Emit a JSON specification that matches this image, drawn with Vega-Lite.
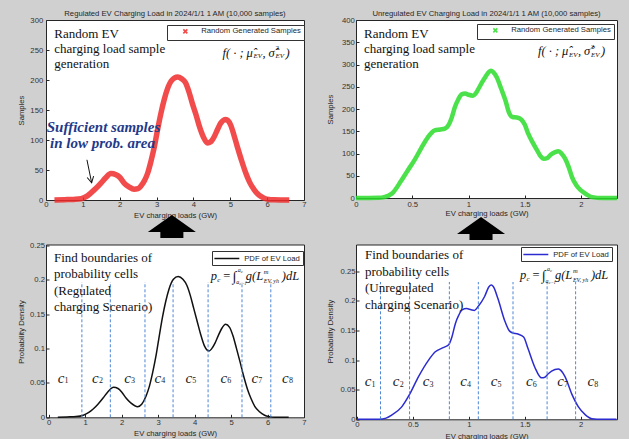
{
"$schema": "https://vega.github.io/schema/vega-lite/v6.json",
"background": "#d0d0d0",
"padding": {"left": 16, "top": 9, "right": 14, "bottom": 4},
"bounds": "flush",
"align": "none",
"columns": 2,
"spacing": {"row": 44.5, "column": 52},
"config": {
  "font": "Liberation Sans",
  "view": {"stroke": "#262626", "strokeWidth": 1, "fill": "#ffffff"},
  "axis": {"domain": false, "grid": false, "ticks": true, "tickSize": -3, "tickColor": "#262626", "labelFont": "Liberation Sans", "labelFontSize": 7.7, "labelColor": "#333333", "titleFont": "Liberation Sans", "titleFontSize": 7.7, "titleFontWeight": "normal", "titleColor": "#262626", "labelFlush": false, "labelOverlap": false, "labelBound": false},
  "title": {"font": "Liberation Sans", "fontSize": 7.7, "fontWeight": "normal", "color": "#262626", "offset": -2},
  "legend": {"labelFont": "Liberation Sans", "labelFontSize": 7.7, "labelColor": "#262626", "strokeColor": "#333333", "fillColor": "#ffffff", "padding": 2.5, "orient": "none", "cornerRadius": 0}
},
"datasets": {
  "tl": [{"x":0.23,"y":0},{"x":0.5,"y":0.5},{"x":0.75,"y":1},{"x":0.95,"y":2},{"x":1.1,"y":6},{"x":1.22,"y":12},{"x":1.35,"y":19},{"x":1.49,"y":28},{"x":1.62,"y":37},{"x":1.76,"y":44},{"x":1.9,"y":42},{"x":2.0,"y":38},{"x":2.12,"y":28},{"x":2.25,"y":22},{"x":2.39,"y":18},{"x":2.5,"y":19},{"x":2.57,"y":23},{"x":2.67,"y":32},{"x":2.76,"y":45},{"x":2.85,"y":65},{"x":2.94,"y":89},{"x":3.03,"y":118},{"x":3.12,"y":145},{"x":3.21,"y":168},{"x":3.3,"y":186},{"x":3.42,"y":200},{"x":3.57,"y":205},{"x":3.68,"y":202},{"x":3.79,"y":195},{"x":3.88,"y":180},{"x":3.97,"y":161},{"x":4.07,"y":142},{"x":4.16,"y":123},{"x":4.27,"y":105},{"x":4.38,"y":95},{"x":4.47,"y":97},{"x":4.56,"y":105},{"x":4.65,"y":117},{"x":4.74,"y":128},{"x":4.88,"y":134},{"x":5.01,"y":125},{"x":5.1,"y":108},{"x":5.19,"y":89},{"x":5.3,"y":67},{"x":5.42,"y":45},{"x":5.53,"y":29},{"x":5.65,"y":17},{"x":5.78,"y":8},{"x":5.92,"y":3},{"x":6.05,"y":1},{"x":6.19,"y":0.5},{"x":6.6,"y":0}],
  "tr": [{"x":0,"y":0},{"x":0.2,"y":0.5},{"x":0.25,"y":2},{"x":0.32,"y":10},{"x":0.4,"y":38},{"x":0.46,"y":62},{"x":0.52,"y":85},{"x":0.58,"y":112},{"x":0.64,"y":137},{"x":0.7,"y":152},{"x":0.75,"y":154},{"x":0.79,"y":156},{"x":0.82,"y":163},{"x":0.85,"y":180},{"x":0.88,"y":205},{"x":0.91,"y":222},{"x":0.94,"y":233},{"x":0.97,"y":235},{"x":1.0,"y":232},{"x":1.04,"y":230},{"x":1.07,"y":237},{"x":1.09,"y":246},{"x":1.12,"y":260},{"x":1.15,"y":272},{"x":1.18,"y":283},{"x":1.2,"y":286},{"x":1.22,"y":283},{"x":1.25,"y":272},{"x":1.29,"y":246},{"x":1.33,"y":218},{"x":1.36,"y":192},{"x":1.39,"y":182},{"x":1.43,"y":181},{"x":1.47,"y":176},{"x":1.5,"y":165},{"x":1.53,"y":145},{"x":1.57,"y":125},{"x":1.61,"y":107},{"x":1.64,"y":94},{"x":1.67,"y":88},{"x":1.7,"y":90},{"x":1.73,"y":97},{"x":1.77,"y":103},{"x":1.8,"y":105},{"x":1.83,"y":99},{"x":1.86,"y":88},{"x":1.89,"y":70},{"x":1.92,"y":47},{"x":1.96,"y":28},{"x":2.0,"y":17},{"x":2.05,"y":8},{"x":2.1,"y":2},{"x":2.19,"y":0},{"x":2.32,"y":0}],
  "bl": [{"x":0.25,"y":0},{"x":0.5,"y":0.0005},{"x":0.75,"y":0.001},{"x":0.95,"y":0.003},{"x":1.1,"y":0.007},{"x":1.22,"y":0.012},{"x":1.35,"y":0.019},{"x":1.49,"y":0.028},{"x":1.62,"y":0.037},{"x":1.78,"y":0.0437},{"x":1.9,"y":0.042},{"x":2.0,"y":0.037},{"x":2.12,"y":0.028},{"x":2.25,"y":0.021},{"x":2.44,"y":0.0155},{"x":2.55,"y":0.019},{"x":2.67,"y":0.031},{"x":2.76,"y":0.045},{"x":2.85,"y":0.065},{"x":2.94,"y":0.089},{"x":3.03,"y":0.118},{"x":3.12,"y":0.146},{"x":3.21,"y":0.169},{"x":3.3,"y":0.187},{"x":3.42,"y":0.201},{"x":3.55,"y":0.205},{"x":3.68,"y":0.201},{"x":3.79,"y":0.192},{"x":3.88,"y":0.178},{"x":3.97,"y":0.16},{"x":4.07,"y":0.14},{"x":4.16,"y":0.122},{"x":4.27,"y":0.104},{"x":4.4,"y":0.0966},{"x":4.47,"y":0.1},{"x":4.56,"y":0.108},{"x":4.65,"y":0.119},{"x":4.74,"y":0.129},{"x":4.85,"y":0.1354},{"x":4.96,"y":0.131},{"x":5.05,"y":0.119},{"x":5.15,"y":0.1},{"x":5.25,"y":0.08},{"x":5.35,"y":0.059},{"x":5.45,"y":0.041},{"x":5.55,"y":0.027},{"x":5.65,"y":0.016},{"x":5.78,"y":0.008},{"x":5.92,"y":0.003},{"x":6.05,"y":0.001},{"x":6.2,"y":0},{"x":6.58,"y":0}],
  "br": [{"x":0,"y":0},{"x":0.2,"y":0},{"x":0.26,"y":0.002},{"x":0.31,"y":0.007},{"x":0.4,"y":0.021},{"x":0.47,"y":0.042},{"x":0.55,"y":0.072},{"x":0.64,"y":0.1},{"x":0.7,"y":0.114},{"x":0.77,"y":0.121},{"x":0.82,"y":0.126},{"x":0.85,"y":0.14},{"x":0.88,"y":0.162},{"x":0.91,"y":0.176},{"x":0.94,"y":0.185},{"x":0.98,"y":0.187},{"x":1.02,"y":0.185},{"x":1.05,"y":0.184},{"x":1.085,"y":0.191},{"x":1.14,"y":0.207},{"x":1.18,"y":0.224},{"x":1.2,"y":0.227},{"x":1.22,"y":0.224},{"x":1.26,"y":0.204},{"x":1.32,"y":0.167},{"x":1.36,"y":0.15},{"x":1.39,"y":0.146},{"x":1.44,"y":0.144},{"x":1.49,"y":0.139},{"x":1.53,"y":0.119},{"x":1.59,"y":0.088},{"x":1.65,"y":0.07},{"x":1.68,"y":0.071},{"x":1.71,"y":0.077},{"x":1.77,"y":0.084},{"x":1.8,"y":0.085},{"x":1.82,"y":0.083},{"x":1.86,"y":0.072},{"x":1.92,"y":0.043},{"x":1.98,"y":0.021},{"x":2.04,"y":0.008},{"x":2.1,"y":0.001},{"x":2.19,"y":0},{"x":2.32,"y":0}],
  "blb": [{"x":0.91},{"x":1.69},{"x":2.64},{"x":3.41},{"x":4.37},{"x":5.3},{"x":6.09}],
  "brb": [{"x":0.21},{"x":0.47},{"x":0.826},{"x":1.085},{"x":1.395},{"x":1.7},{"x":1.955}],
  "blc": [{"x":0.337,"n":"1"},{"x":1.28,"n":"2"},{"x":2.16,"n":"3"},{"x":2.99,"n":"4"},{"x":3.84,"n":"5"},{"x":4.8,"n":"6"},{"x":5.65,"n":"7"},{"x":6.49,"n":"8"}],
  "brc": [{"x":0.098,"n":"1"},{"x":0.35,"n":"2"},{"x":0.617,"n":"3"},{"x":0.952,"n":"4"},{"x":1.225,"n":"5"},{"x":1.54,"n":"6"},{"x":1.82,"n":"7"},{"x":2.09,"n":"8"}]
},
"resolve": {"scale": {"x": "independent", "y": "independent", "color": "independent"}, "legend": {"color": "independent"}},
"concat": [
  {
   "width": 258, "height": 180,
   "title": "Regulated EV Charging Load in 2024/1/1 1 AM (10,000 samples)",
   "layer": [
    {"data": {"name": "tl"},
     "mark": {"type": "line", "interpolate": "monotone", "strokeWidth": 5.5, "opacity": 0.85},
     "encoding": {
      "x": {"field": "x", "type": "quantitative", "scale": {"domain": [0, 7], "nice": false, "zero": false}, "axis": {"title": "EV charging loads (GW)", "values": [0,1,2,3,4,5,6,7], "tickCount": 20, "format": "d", "labelOverlap": false, "labelPadding": 3.7, "titleY": 15, "titleBaseline": "middle"}},
      "y": {"field": "y", "type": "quantitative", "scale": {"domain": [0, 300], "nice": false}, "axis": {"title": "Samples", "values": [0,50,100,150,200,250,300], "tickCount": 20, "format": "d", "labelOverlap": false, "labelPadding": 6.3, "titleX": -25, "titleY": 90, "titleBaseline": "middle", "titleAngle": -90}},
      "color": {"datum": "Random Generated Samples", "type": "nominal", "scale": {"range": ["#ee2b2b"]}, "legend": {"title": null, "legendX": 121, "legendY": 5, "symbolType": "M-1,-1L1,1M1,-1L-1,1", "symbolSize": 16, "symbolOffset": 12, "labelOffset": 12, "symbolStrokeWidth": 1.6, "symbolFillColor": "transparent", "symbolStrokeColor": "#ee2b2b"}}
     }},
    {"data": {"values": [{}]}, "mark": {"type": "text", "text": ["Random EV", "charging load sample", "generation"], "font": "Liberation Serif", "fontSize": 13, "lineHeight": 15, "align": "left", "baseline": "alphabetic", "color": "#111111"}, "encoding": {"x": {"datum": 0.225, "type": "quantitative"}, "y": {"datum": 270.5, "type": "quantitative"}}},
    {"data": {"values": [{}]}, "mark": {"type": "text", "text": "f( \u00b7 ;", "dx": 0, "font": "Liberation Serif", "fontSize": 12.5, "fontStyle": "italic", "align": "left", "baseline": "middle", "color": "#111111"}, "encoding": {"x": {"datum": 4.79, "type": "quantitative"}, "y": {"datum": 245.6, "type": "quantitative"}}},
    {"data": {"values": [{}]}, "mark": {"type": "text", "text": "\u03bc\u0302", "dx": 24, "font": "Liberation Serif", "fontSize": 12.5, "fontStyle": "italic", "align": "left", "baseline": "middle", "color": "#111111"}, "encoding": {"x": {"datum": 4.79, "type": "quantitative"}, "y": {"datum": 245.6, "type": "quantitative"}}},
    {"data": {"values": [{}]}, "mark": {"type": "text", "text": "EV", "dx": 31, "dy": 3.5, "font": "Liberation Serif", "fontSize": 7, "fontStyle": "italic", "align": "left", "baseline": "middle", "color": "#111111"}, "encoding": {"x": {"datum": 4.79, "type": "quantitative"}, "y": {"datum": 245.6, "type": "quantitative"}}},
    {"data": {"values": [{}]}, "mark": {"type": "text", "text": ",", "dx": 40, "font": "Liberation Serif", "fontSize": 12.5, "fontStyle": "italic", "align": "left", "baseline": "middle", "color": "#111111"}, "encoding": {"x": {"datum": 4.79, "type": "quantitative"}, "y": {"datum": 245.6, "type": "quantitative"}}},
    {"data": {"values": [{}]}, "mark": {"type": "text", "text": "\u03c3\u0302", "dx": 46, "font": "Liberation Serif", "fontSize": 12.5, "fontStyle": "italic", "align": "left", "baseline": "middle", "color": "#111111"}, "encoding": {"x": {"datum": 4.79, "type": "quantitative"}, "y": {"datum": 245.6, "type": "quantitative"}}},
    {"data": {"values": [{}]}, "mark": {"type": "text", "text": "2", "dx": 53, "dy": -4.5, "font": "Liberation Serif", "fontSize": 7, "align": "left", "baseline": "middle", "color": "#111111"}, "encoding": {"x": {"datum": 4.79, "type": "quantitative"}, "y": {"datum": 245.6, "type": "quantitative"}}},
    {"data": {"values": [{}]}, "mark": {"type": "text", "text": "EV", "dx": 53, "dy": 3.5, "font": "Liberation Serif", "fontSize": 7, "fontStyle": "italic", "align": "left", "baseline": "middle", "color": "#111111"}, "encoding": {"x": {"datum": 4.79, "type": "quantitative"}, "y": {"datum": 245.6, "type": "quantitative"}}},
    {"data": {"values": [{}]}, "mark": {"type": "text", "text": ")", "dx": 63, "font": "Liberation Serif", "fontSize": 12.5, "fontStyle": "italic", "align": "left", "baseline": "middle", "color": "#111111"}, "encoding": {"x": {"datum": 4.79, "type": "quantitative"}, "y": {"datum": 245.6, "type": "quantitative"}}},
    {"data": {"values": [{}]}, "mark": {"type": "text", "text": "Sufficient samples", "font": "Liberation Serif", "fontSize": 15, "fontStyle": "italic", "fontWeight": "bold", "align": "left", "baseline": "alphabetic", "color": "#1f3a8a"}, "encoding": {"x": {"datum": 0.02, "type": "quantitative"}, "y": {"datum": 114, "type": "quantitative"}}},
    {"data": {"values": [{}]}, "mark": {"type": "text", "text": "in low prob. area", "font": "Liberation Serif", "fontSize": 15, "fontStyle": "italic", "fontWeight": "bold", "align": "left", "baseline": "alphabetic", "color": "#1f3a8a"}, "encoding": {"x": {"datum": 0.108, "type": "quantitative"}, "y": {"datum": 86.5, "type": "quantitative"}}},
    {"data": {"values": [{}]}, "mark": {"type": "rule", "color": "#111111", "strokeWidth": 1}, "encoding": {"x": {"datum": 1.111, "type": "quantitative"}, "y": {"datum": 67, "type": "quantitative"}, "x2": {"datum": 1.238}, "y2": {"datum": 28.8}}},
    {"data": {"values": [{}]}, "mark": {"type": "point", "shape": "M-0.55,-1L0,0L0.55,-1", "filled": false, "size": 144, "angle": 348, "color": "#111111", "strokeWidth": 1, "opacity": 1}, "encoding": {"x": {"datum": 1.238, "type": "quantitative"}, "y": {"datum": 28.8, "type": "quantitative"}}}
   ]
  },
  {
   "width": 261, "height": 178,
   "title": "Unregulated EV Charging Load in 2024/1/1 1 AM (10,000 samples)",
   "layer": [
    {"data": {"name": "tr"},
     "mark": {"type": "line", "interpolate": "monotone", "strokeWidth": 4.5, "opacity": 0.85},
     "encoding": {
      "x": {"field": "x", "type": "quantitative", "scale": {"domain": [0, 2.32], "nice": false, "zero": false}, "axis": {"title": "EV charging loads (GW)", "values": [0,0.5,1,1.5,2], "tickCount": 20, "format": ".1~f", "labelOverlap": false, "labelPadding": 5.3, "titleY": 15, "titleBaseline": "middle"}},
      "y": {"field": "y", "type": "quantitative", "scale": {"domain": [0, 400], "nice": false}, "axis": {"title": "Samples", "values": [0,50,100,150,200,250,300,350,400], "tickCount": 20, "format": "d", "labelOverlap": false, "labelPadding": 4.7, "titleX": -25.3, "titleY": 89, "titleBaseline": "middle", "titleAngle": -90}},
      "color": {"datum": "Random Generated Samples", "type": "nominal", "scale": {"range": ["#2bdc2b"]}, "legend": {"title": null, "legendX": 121, "legendY": 4, "symbolType": "M-1,-1L1,1M1,-1L-1,1", "symbolSize": 16, "symbolOffset": 12, "labelOffset": 12, "symbolStrokeWidth": 1.6, "symbolFillColor": "transparent", "symbolStrokeColor": "#2bdc2b"}}
     }},
    {"data": {"values": [{}]}, "mark": {"type": "text", "text": ["Random EV", "charging load sample", "generation"], "font": "Liberation Serif", "fontSize": 13, "lineHeight": 15, "align": "left", "baseline": "alphabetic", "color": "#111111"}, "encoding": {"x": {"datum": 0.071, "type": "quantitative"}, "y": {"datum": 359.6, "type": "quantitative"}}},
    {"data": {"values": [{}]}, "mark": {"type": "text", "text": "f( \u00b7 ;", "dx": 0, "font": "Liberation Serif", "fontSize": 12.5, "fontStyle": "italic", "align": "left", "baseline": "middle", "color": "#111111"}, "encoding": {"x": {"datum": 1.618, "type": "quantitative"}, "y": {"datum": 330.3, "type": "quantitative"}}},
    {"data": {"values": [{}]}, "mark": {"type": "text", "text": "\u03bc\u0302", "dx": 24, "font": "Liberation Serif", "fontSize": 12.5, "fontStyle": "italic", "align": "left", "baseline": "middle", "color": "#111111"}, "encoding": {"x": {"datum": 1.618, "type": "quantitative"}, "y": {"datum": 330.3, "type": "quantitative"}}},
    {"data": {"values": [{}]}, "mark": {"type": "text", "text": "EV", "dx": 31, "dy": 3.5, "font": "Liberation Serif", "fontSize": 7, "fontStyle": "italic", "align": "left", "baseline": "middle", "color": "#111111"}, "encoding": {"x": {"datum": 1.618, "type": "quantitative"}, "y": {"datum": 330.3, "type": "quantitative"}}},
    {"data": {"values": [{}]}, "mark": {"type": "text", "text": ",", "dx": 40, "font": "Liberation Serif", "fontSize": 12.5, "fontStyle": "italic", "align": "left", "baseline": "middle", "color": "#111111"}, "encoding": {"x": {"datum": 1.618, "type": "quantitative"}, "y": {"datum": 330.3, "type": "quantitative"}}},
    {"data": {"values": [{}]}, "mark": {"type": "text", "text": "\u03c3\u0302", "dx": 46, "font": "Liberation Serif", "fontSize": 12.5, "fontStyle": "italic", "align": "left", "baseline": "middle", "color": "#111111"}, "encoding": {"x": {"datum": 1.618, "type": "quantitative"}, "y": {"datum": 330.3, "type": "quantitative"}}},
    {"data": {"values": [{}]}, "mark": {"type": "text", "text": "2", "dx": 53, "dy": -4.5, "font": "Liberation Serif", "fontSize": 7, "align": "left", "baseline": "middle", "color": "#111111"}, "encoding": {"x": {"datum": 1.618, "type": "quantitative"}, "y": {"datum": 330.3, "type": "quantitative"}}},
    {"data": {"values": [{}]}, "mark": {"type": "text", "text": "EV", "dx": 53, "dy": 3.5, "font": "Liberation Serif", "fontSize": 7, "fontStyle": "italic", "align": "left", "baseline": "middle", "color": "#111111"}, "encoding": {"x": {"datum": 1.618, "type": "quantitative"}, "y": {"datum": 330.3, "type": "quantitative"}}},
    {"data": {"values": [{}]}, "mark": {"type": "text", "text": ")", "dx": 63, "font": "Liberation Serif", "fontSize": 12.5, "fontStyle": "italic", "align": "left", "baseline": "middle", "color": "#111111"}, "encoding": {"x": {"datum": 1.618, "type": "quantitative"}, "y": {"datum": 330.3, "type": "quantitative"}}}
   ]
  },
  {
   "width": 258, "height": 172.8,
   "layer": [
    {"data": {"name": "bl"},
     "mark": {"type": "line", "interpolate": "monotone", "strokeWidth": 1.5},
     "encoding": {
      "x": {"field": "x", "type": "quantitative", "scale": {"domain": [-0.074, 7], "nice": false, "zero": false}, "axis": {"title": "EV charging loads (GW)", "values": [0,1,2,3,4,5,6,7], "tickCount": 20, "format": "d", "labelOverlap": false, "labelPadding": 4.4, "titleY": 16, "titleBaseline": "middle"}},
      "y": {"field": "y", "type": "quantitative", "scale": {"domain": [0, 0.2517], "nice": false}, "axis": {"title": "Probability Density", "values": [0,0.05,0.1,0.15,0.2,0.25], "tickCount": 20, "format": ".2~f", "labelOverlap": false, "labelPadding": 4.5, "titleX": -25, "titleY": 87, "titleBaseline": "middle", "titleAngle": -90}},
      "color": {"datum": "PDF of EV Load", "type": "nominal", "scale": {"range": ["#111111"]}, "legend": {"title": null, "legendX": 166, "legendY": 6.5, "symbolType": "M-3,0L3,0", "symbolSize": 69, "symbolOffset": 7.35, "symbolStrokeWidth": 1.5, "labelOffset": 12.35}}
     }},
    {"data": {"name": "blb"}, "mark": {"type": "rule", "color": "#4d86d6", "strokeDash": [3, 2], "strokeWidth": 1}, "encoding": {"x": {"field": "x", "type": "quantitative"}, "y": {"datum": 0, "type": "quantitative"}, "y2": {"datum": 0.197}}},
    {"data": {"name": "blc"}, "mark": {"type": "text", "text": "c", "font": "Liberation Serif", "fontSize": 15, "fontStyle": "italic", "align": "center", "baseline": "middle", "color": "#222222"}, "encoding": {"x": {"field": "x", "type": "quantitative"}, "y": {"datum": 0.0573, "type": "quantitative"}}},
    {"data": {"name": "blc"}, "mark": {"type": "text", "font": "Liberation Serif", "fontSize": 8, "align": "left", "baseline": "middle", "dx": 3.5, "dy": 3.5, "color": "#222222"}, "encoding": {"x": {"field": "x", "type": "quantitative"}, "y": {"datum": 0.0573, "type": "quantitative"}, "text": {"field": "n"}}},
    {"data": {"values": [{}]}, "mark": {"type": "text", "text": ["Find boundaries of", "probability cells", "(Regulated", "charging Scenario)"], "font": "Liberation Serif", "fontSize": 13, "lineHeight": 16.5, "align": "left", "baseline": "alphabetic", "color": "#111111"}, "encoding": {"x": {"datum": 0.145, "type": "quantitative"}, "y": {"datum": 0.2263, "type": "quantitative"}}},
    {"data": {"values": [{}]}, "mark": {"type": "text", "text": "p", "dx": 0, "font": "Liberation Serif", "fontSize": 12.5, "fontStyle": "italic", "align": "left", "baseline": "alphabetic", "color": "#111111"}, "encoding": {"x": {"datum": 4.445, "type": "quantitative"}, "y": {"datum": 0.2, "type": "quantitative"}}},
    {"data": {"values": [{}]}, "mark": {"type": "text", "text": "c", "dx": 6.5, "dy": 2.5, "font": "Liberation Serif", "fontSize": 7, "fontStyle": "italic", "align": "left", "baseline": "alphabetic", "color": "#111111"}, "encoding": {"x": {"datum": 4.445, "type": "quantitative"}, "y": {"datum": 0.2, "type": "quantitative"}}},
    {"data": {"values": [{}]}, "mark": {"type": "text", "text": "=", "dx": 12.5, "font": "Liberation Serif", "fontSize": 12.5, "align": "left", "baseline": "alphabetic", "color": "#111111"}, "encoding": {"x": {"datum": 4.445, "type": "quantitative"}, "y": {"datum": 0.2, "type": "quantitative"}}},
    {"data": {"values": [{}]}, "mark": {"type": "text", "text": "\u222b", "dx": 22, "dy": 1, "font": "Liberation Serif", "fontSize": 14, "align": "left", "baseline": "alphabetic", "color": "#111111"}, "encoding": {"x": {"datum": 4.445, "type": "quantitative"}, "y": {"datum": 0.2, "type": "quantitative"}}},
    {"data": {"values": [{}]}, "mark": {"type": "text", "text": "a", "dx": 27, "dy": -8, "font": "Liberation Serif", "fontSize": 6, "fontStyle": "italic", "align": "left", "baseline": "alphabetic", "color": "#111111"}, "encoding": {"x": {"datum": 4.445, "type": "quantitative"}, "y": {"datum": 0.2, "type": "quantitative"}}},
    {"data": {"values": [{}]}, "mark": {"type": "text", "text": "c", "dx": 30, "dy": -6.5, "font": "Liberation Serif", "fontSize": 4.5, "fontStyle": "italic", "align": "left", "baseline": "alphabetic", "color": "#111111"}, "encoding": {"x": {"datum": 4.445, "type": "quantitative"}, "y": {"datum": 0.2, "type": "quantitative"}}},
    {"data": {"values": [{}]}, "mark": {"type": "text", "text": "a", "dx": 25.5, "dy": 4, "font": "Liberation Serif", "fontSize": 6, "fontStyle": "italic", "align": "left", "baseline": "alphabetic", "color": "#111111"}, "encoding": {"x": {"datum": 4.445, "type": "quantitative"}, "y": {"datum": 0.2, "type": "quantitative"}}},
    {"data": {"values": [{}]}, "mark": {"type": "text", "text": "c\u22121", "dx": 28.5, "dy": 5.5, "font": "Liberation Serif", "fontSize": 4.5, "fontStyle": "italic", "align": "left", "baseline": "alphabetic", "color": "#111111"}, "encoding": {"x": {"datum": 4.445, "type": "quantitative"}, "y": {"datum": 0.2, "type": "quantitative"}}},
    {"data": {"values": [{}]}, "mark": {"type": "text", "text": "g(L", "dx": 35, "font": "Liberation Serif", "fontSize": 12.5, "fontStyle": "italic", "align": "left", "baseline": "alphabetic", "color": "#111111"}, "encoding": {"x": {"datum": 4.445, "type": "quantitative"}, "y": {"datum": 0.2, "type": "quantitative"}}},
    {"data": {"values": [{}]}, "mark": {"type": "text", "text": "m", "dx": 53, "dy": -6, "font": "Liberation Serif", "fontSize": 6.5, "fontStyle": "italic", "align": "left", "baseline": "alphabetic", "color": "#111111"}, "encoding": {"x": {"datum": 4.445, "type": "quantitative"}, "y": {"datum": 0.2, "type": "quantitative"}}},
    {"data": {"values": [{}]}, "mark": {"type": "text", "text": "EV, yh", "dx": 53, "dy": 3, "font": "Liberation Serif", "fontSize": 6, "fontStyle": "italic", "align": "left", "baseline": "alphabetic", "color": "#111111"}, "encoding": {"x": {"datum": 4.445, "type": "quantitative"}, "y": {"datum": 0.2, "type": "quantitative"}}},
    {"data": {"values": [{}]}, "mark": {"type": "text", "text": ")dL", "dx": 71, "font": "Liberation Serif", "fontSize": 12.5, "fontStyle": "italic", "align": "left", "baseline": "alphabetic", "color": "#111111"}, "encoding": {"x": {"datum": 4.445, "type": "quantitative"}, "y": {"datum": 0.2, "type": "quantitative"}}},
    {"data": {"values": [{}]}, "mark": {"type": "point", "shape": "M0,-0.48L1,0.23L0.48,0.23L0.48,0.48L-0.48,0.48L-0.48,0.23L-1,0.23Z", "filled": true, "size": 2304, "color": "#000000", "opacity": 1, "strokeWidth": 0}, "encoding": {"x": {"datum": 3.377, "type": "quantitative"}, "y": {"datum": 0.278, "type": "quantitative"}}}
   ]
  },
  {
   "width": 261, "height": 174.8,
   "layer": [
    {"data": {"name": "br"},
     "mark": {"type": "line", "interpolate": "monotone", "strokeWidth": 1.5},
     "encoding": {
      "x": {"field": "x", "type": "quantitative", "scale": {"domain": [-0.009, 2.325], "nice": false, "zero": false}, "axis": {"title": "EV charging loads (GW)", "values": [0,0.5,1,1.5,2], "tickCount": 20, "format": ".1~f", "labelOverlap": false, "labelPadding": 4.1, "titleY": 16.7, "titleBaseline": "middle"}},
      "y": {"field": "y", "type": "quantitative", "scale": {"domain": [0, 0.2953], "nice": false}, "axis": {"title": "Probability Density", "values": [0,0.05,0.1,0.15,0.2,0.25], "tickCount": 20, "format": ".2~f", "labelOverlap": false, "labelPadding": 4, "titleX": -26, "titleY": 86.5, "titleBaseline": "middle", "titleAngle": -90}},
      "color": {"datum": "PDF of EV Load", "type": "nominal", "scale": {"range": ["#2b2bd0"]}, "legend": {"title": null, "legendX": 165, "legendY": 2.5, "symbolType": "M-3,0L3,0", "symbolSize": 69, "symbolOffset": 7.35, "symbolStrokeWidth": 1.5, "labelOffset": 12.35}}
     }},
    {"data": {"name": "brb"}, "mark": {"type": "rule", "color": "#4d86d6", "strokeDash": [3, 2], "strokeWidth": 1}, "encoding": {"x": {"field": "x", "type": "quantitative"}, "y": {"datum": 0, "type": "quantitative"}, "y2": {"datum": 0.232}}},
    {"data": {"name": "brc"}, "mark": {"type": "text", "text": "c", "font": "Liberation Serif", "fontSize": 15, "fontStyle": "italic", "align": "center", "baseline": "middle", "color": "#222222"}, "encoding": {"x": {"field": "x", "type": "quantitative"}, "y": {"datum": 0.0647, "type": "quantitative"}}},
    {"data": {"name": "brc"}, "mark": {"type": "text", "font": "Liberation Serif", "fontSize": 8, "align": "left", "baseline": "middle", "dx": 3.5, "dy": 3.5, "color": "#222222"}, "encoding": {"x": {"field": "x", "type": "quantitative"}, "y": {"datum": 0.0647, "type": "quantitative"}, "text": {"field": "n"}}},
    {"data": {"values": [{}]}, "mark": {"type": "text", "text": ["Find boundaries of", "probability cells", "(Unregulated", "charging Scenario)"], "font": "Liberation Serif", "fontSize": 13, "lineHeight": 16.5, "align": "left", "baseline": "alphabetic", "color": "#111111"}, "encoding": {"x": {"datum": 0.0715, "type": "quantitative"}, "y": {"datum": 0.2703, "type": "quantitative"}}},
    {"data": {"values": [{}]}, "mark": {"type": "text", "text": "p", "dx": 0, "font": "Liberation Serif", "fontSize": 12.5, "fontStyle": "italic", "align": "left", "baseline": "alphabetic", "color": "#111111"}, "encoding": {"x": {"datum": 1.457, "type": "quantitative"}, "y": {"datum": 0.2375, "type": "quantitative"}}},
    {"data": {"values": [{}]}, "mark": {"type": "text", "text": "c", "dx": 6.5, "dy": 2.5, "font": "Liberation Serif", "fontSize": 7, "fontStyle": "italic", "align": "left", "baseline": "alphabetic", "color": "#111111"}, "encoding": {"x": {"datum": 1.457, "type": "quantitative"}, "y": {"datum": 0.2375, "type": "quantitative"}}},
    {"data": {"values": [{}]}, "mark": {"type": "text", "text": "=", "dx": 12.5, "font": "Liberation Serif", "fontSize": 12.5, "align": "left", "baseline": "alphabetic", "color": "#111111"}, "encoding": {"x": {"datum": 1.457, "type": "quantitative"}, "y": {"datum": 0.2375, "type": "quantitative"}}},
    {"data": {"values": [{}]}, "mark": {"type": "text", "text": "\u222b", "dx": 22, "dy": 1, "font": "Liberation Serif", "fontSize": 14, "align": "left", "baseline": "alphabetic", "color": "#111111"}, "encoding": {"x": {"datum": 1.457, "type": "quantitative"}, "y": {"datum": 0.2375, "type": "quantitative"}}},
    {"data": {"values": [{}]}, "mark": {"type": "text", "text": "a", "dx": 27, "dy": -8, "font": "Liberation Serif", "fontSize": 6, "fontStyle": "italic", "align": "left", "baseline": "alphabetic", "color": "#111111"}, "encoding": {"x": {"datum": 1.457, "type": "quantitative"}, "y": {"datum": 0.2375, "type": "quantitative"}}},
    {"data": {"values": [{}]}, "mark": {"type": "text", "text": "c", "dx": 30, "dy": -6.5, "font": "Liberation Serif", "fontSize": 4.5, "fontStyle": "italic", "align": "left", "baseline": "alphabetic", "color": "#111111"}, "encoding": {"x": {"datum": 1.457, "type": "quantitative"}, "y": {"datum": 0.2375, "type": "quantitative"}}},
    {"data": {"values": [{}]}, "mark": {"type": "text", "text": "a", "dx": 25.5, "dy": 4, "font": "Liberation Serif", "fontSize": 6, "fontStyle": "italic", "align": "left", "baseline": "alphabetic", "color": "#111111"}, "encoding": {"x": {"datum": 1.457, "type": "quantitative"}, "y": {"datum": 0.2375, "type": "quantitative"}}},
    {"data": {"values": [{}]}, "mark": {"type": "text", "text": "c\u22121", "dx": 28.5, "dy": 5.5, "font": "Liberation Serif", "fontSize": 4.5, "fontStyle": "italic", "align": "left", "baseline": "alphabetic", "color": "#111111"}, "encoding": {"x": {"datum": 1.457, "type": "quantitative"}, "y": {"datum": 0.2375, "type": "quantitative"}}},
    {"data": {"values": [{}]}, "mark": {"type": "text", "text": "g(L", "dx": 35, "font": "Liberation Serif", "fontSize": 12.5, "fontStyle": "italic", "align": "left", "baseline": "alphabetic", "color": "#111111"}, "encoding": {"x": {"datum": 1.457, "type": "quantitative"}, "y": {"datum": 0.2375, "type": "quantitative"}}},
    {"data": {"values": [{}]}, "mark": {"type": "text", "text": "m", "dx": 53, "dy": -6, "font": "Liberation Serif", "fontSize": 6.5, "fontStyle": "italic", "align": "left", "baseline": "alphabetic", "color": "#111111"}, "encoding": {"x": {"datum": 1.457, "type": "quantitative"}, "y": {"datum": 0.2375, "type": "quantitative"}}},
    {"data": {"values": [{}]}, "mark": {"type": "text", "text": "EV, yh", "dx": 53, "dy": 3, "font": "Liberation Serif", "fontSize": 6, "fontStyle": "italic", "align": "left", "baseline": "alphabetic", "color": "#111111"}, "encoding": {"x": {"datum": 1.457, "type": "quantitative"}, "y": {"datum": 0.2375, "type": "quantitative"}}},
    {"data": {"values": [{}]}, "mark": {"type": "text", "text": ")dL", "dx": 71, "font": "Liberation Serif", "fontSize": 12.5, "fontStyle": "italic", "align": "left", "baseline": "alphabetic", "color": "#111111"}, "encoding": {"x": {"datum": 1.457, "type": "quantitative"}, "y": {"datum": 0.2375, "type": "quantitative"}}},
    {"data": {"values": [{}]}, "mark": {"type": "point", "shape": "M0,-0.48L1,0.23L0.48,0.23L0.48,0.48L-0.48,0.48L-0.48,0.23L-1,0.23Z", "filled": true, "size": 2304, "color": "#000000", "opacity": 1, "strokeWidth": 0}, "encoding": {"x": {"datum": 1.109, "type": "quantitative"}, "y": {"datum": 0.3223, "type": "quantitative"}}}
   ]
  }
]
}
